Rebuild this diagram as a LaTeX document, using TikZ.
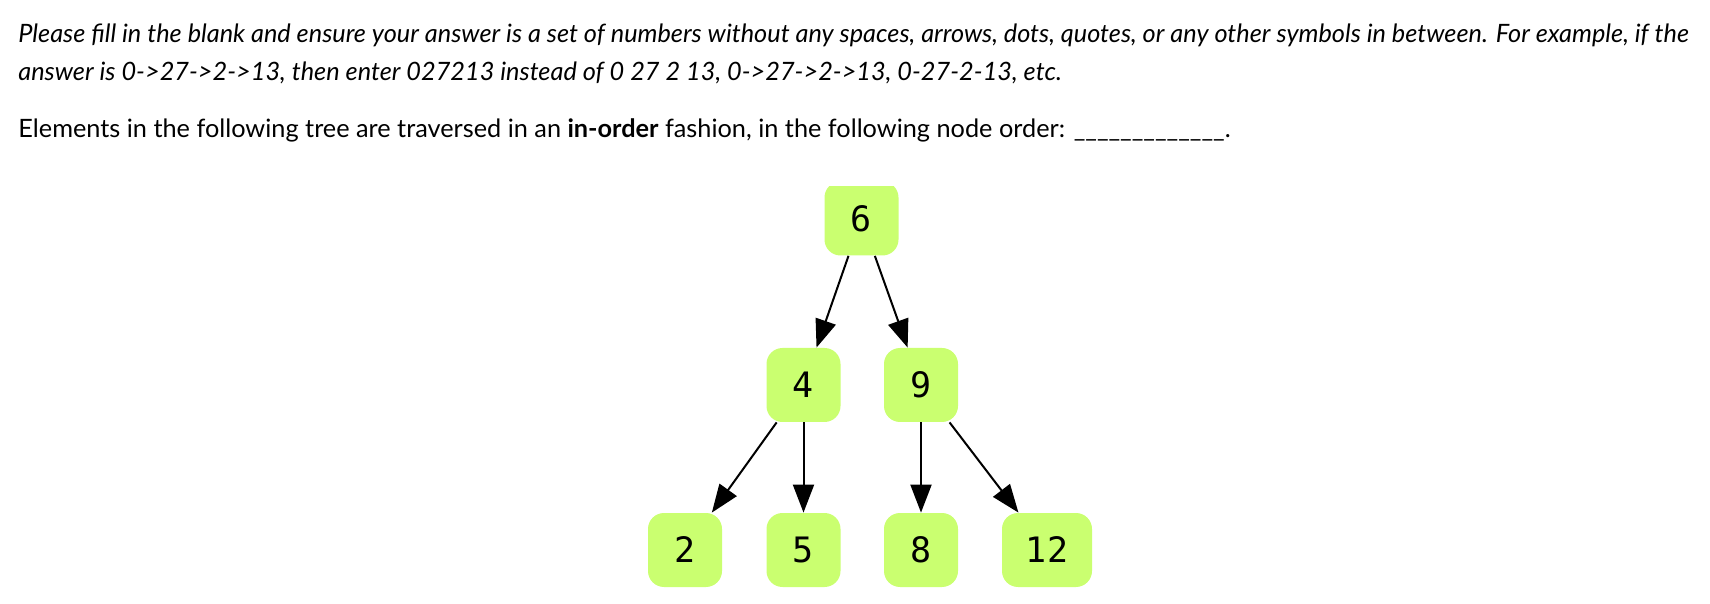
\documentclass[tikz,border=0pt]{standalone}
\usepackage{fontspec}
\setmainfont{Lato}
\newfontfamily\nodefont{DejaVu Sans Mono}
\usetikzlibrary{arrows.meta}
\definecolor{leafgreen}{RGB}{202,255,112}

\begin{document}
\begin{tikzpicture}[x=0.5pt, y=-0.5pt,
  treenode/.style={rectangle, rounded corners=8pt, fill=leafgreen, minimum width=37pt, minimum height=37pt, inner sep=0pt, font=\nodefont\fontsize{17.5}{20}\selectfont},
  textline/.style={anchor=base west, inner sep=0pt, font=\fontsize{12.65}{15}\selectfont},
  edge/.style={line width=1pt, -{Triangle[length=14pt, width=10.5pt]}}]

        % page size of the reference
        \useasboundingbox (0,0) rectangle (1710,604);

        % the question text
        \node[textline] (line1) at (18,43) {\itshape Please fill in the blank and ensure your answer is a set of numbers without any spaces, arrows, dots, quotes, or any other symbols in between. For example, if the};
        \node[textline] (line2) at (18,81) {\itshape answer is 0->27->2->13, then enter 027213 instead of 0 27 2 13, 0->27->2->13, 0-27-2-13, etc.};
        \node[textline] (line3) at (18,138) {Elements in the following tree are traversed in an \textbf{in-order} fashion, in the following node order: \_\_\_\_\_\_\_\_\_\_\_\_\_.};

        % the root is cut off at the top in the reference
        \begin{scope}
          \clip (0,187) rectangle (1710,604);
          \node[treenode] (n6) at (861.5,218.5) {6};
        \end{scope}

        % the other tree nodes
        \node[treenode] (n4) at (803.5,385) {4};
        \node[treenode] (n9) at (921,385) {9};
        \node[treenode] (n2) at (685,550) {2};
        \node[treenode] (n5) at (803.5,550) {5};
        \node[treenode] (n8) at (921,550) {8};
        \node[treenode, minimum width=45pt] (n12) at (1047,550) {12};

        % parent to child edges
        \foreach \from/\to in {n6/n4, n6/n9, n4/n2, n4/n5, n9/n8, n9/n12}
                \draw[edge] (\from) -- (\to);

\end{tikzpicture}
\end{document}
